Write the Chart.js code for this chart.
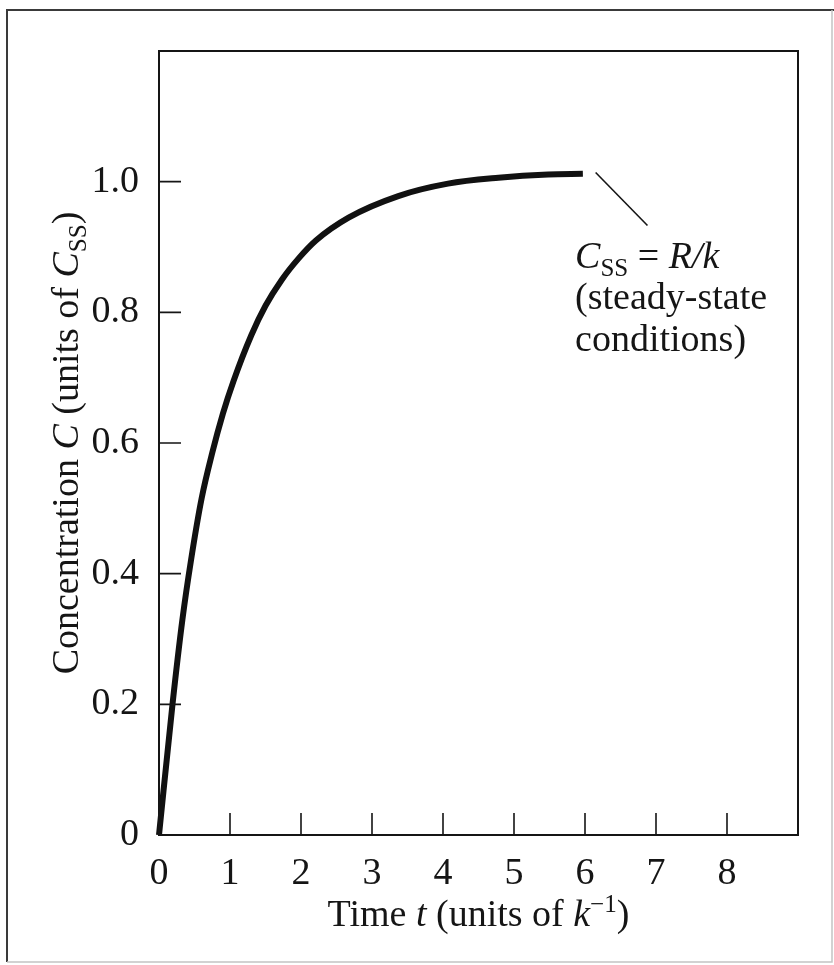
<!DOCTYPE html>
<html>
<head>
<meta charset="utf-8">
<script src="https://cdn.jsdelivr.net/npm/chart.js@4"></script>
<style>
  html, body { margin: 0; padding: 0; background: #fff; }
  #wrap { width: 834px; height: 965px; }
</style>
</head>
<body>
<div id="wrap"><canvas id="c" width="834" height="965"></canvas></div>
<script>
// ---- data ----
const timeValues = [0, 0.19, 0.33, 0.45, 0.60, 0.75, 0.90, 1.05, 1.30, 1.50, 1.73, 1.97, 2.21, 2.67, 3.37, 4.07, 4.78, 5.48, 5.97];
const concValues = [0, 0.20, 0.33, 0.42, 0.515, 0.585, 0.645, 0.695, 0.765, 0.81, 0.85, 0.883, 0.91, 0.945, 0.978, 0.997, 1.006, 1.011, 1.012];
const xTickValues = [0, 1, 2, 3, 4, 5, 6, 7, 8];
const xTickLabels = ['0', '1', '2', '3', '4', '5', '6', '7', '8'];
const yTickValues = [0, 0.2, 0.4, 0.6, 0.8, 1.0];
const yTickLabels = ['0', '0.2', '0.4', '0.6', '0.8', '1.0'];
const xRange = [0, 9];
const yRange = [0, 1.2];
// annotation leader line (data units) and text anchor
const leaderFrom = [6.15, 1.014];
const leaderTo = [6.88, 0.933];
const noteAnchor = [5.86, 0.868];

const SERIF = '"Liberation Serif", "Times New Roman", "DejaVu Serif", serif';
const INK = '#151515';

function fontStr(size, italic) {
  return (italic ? 'italic ' : '') + size + 'px ' + SERIF;
}

function richWidth(ctx, segs, size) {
  let w = 0;
  for (const s of segs) {
    const fs = (s.sub || s.sup) ? size * 0.66 : size;
    ctx.font = fontStr(fs, s.italic);
    w += ctx.measureText(s.text).width;
  }
  return w;
}
function drawRich(ctx, segs, x, y, size, align) {
  const w = richWidth(ctx, segs, size);
  let cx = align === 'center' ? x - w / 2 : x;
  ctx.textBaseline = 'alphabetic';
  ctx.textAlign = 'left';
  for (const s of segs) {
    const fs = (s.sub || s.sup) ? size * 0.66 : size;
    ctx.font = fontStr(fs, s.italic);
    let dy = 0;
    if (s.sub) dy = size * 0.22;
    if (s.sup) dy = -size * 0.36;
    ctx.fillText(s.text, cx, y + dy);
    cx += ctx.measureText(s.text).width;
  }
}

const figurePlugin = {
  id: 'figure',
  beforeDraw(chart) {
    const ctx = chart.ctx;
    ctx.save();
    ctx.fillStyle = '#fff';
    ctx.fillRect(0, 0, chart.width, chart.height);
    ctx.restore();
  },
  afterDraw(chart) {
    const ctx = chart.ctx;
    const a = chart.chartArea;
    const xs = chart.scales.x, ys = chart.scales.y;
    ctx.save();
    // outer frame of the figure
    ctx.strokeStyle = '#3a3a3a';
    ctx.lineWidth = 2;
    ctx.beginPath();
    ctx.moveTo(7, 962); ctx.lineTo(7, 10); ctx.lineTo(834, 10);
    ctx.stroke();
    ctx.strokeStyle = '#c4c4c4';
    ctx.lineWidth = 1.5;
    ctx.beginPath();
    ctx.moveTo(7, 962); ctx.lineTo(832, 962); ctx.lineTo(832, 10);
    ctx.stroke();

    // plot box
    ctx.strokeStyle = INK;
    ctx.lineWidth = 2;
    ctx.strokeRect(a.left, a.top, a.right - a.left, a.bottom - a.top);

    // inward tick marks
    ctx.lineWidth = 1.6;
    ctx.beginPath();
    for (const v of xTickValues) {
      if (v === 0) continue;
      const px = xs.getPixelForValue(v);
      ctx.moveTo(px, a.bottom);
      ctx.lineTo(px, a.bottom - 22);
    }
    for (const v of yTickValues) {
      if (v === 0) continue;
      const py = ys.getPixelForValue(v);
      ctx.moveTo(a.left, py);
      ctx.lineTo(a.left + 22, py);
    }
    ctx.stroke();

    // leader line for annotation
    ctx.lineWidth = 1.6;
    ctx.beginPath();
    ctx.moveTo(xs.getPixelForValue(leaderFrom[0]), ys.getPixelForValue(leaderFrom[1]));
    ctx.lineTo(xs.getPixelForValue(leaderTo[0]), ys.getPixelForValue(leaderTo[1]));
    ctx.stroke();

    // annotation text
    ctx.fillStyle = INK;
    const ax = xs.getPixelForValue(noteAnchor[0]);
    const ay = ys.getPixelForValue(noteAnchor[1]);
    drawRich(ctx, [
      { text: 'C', italic: true },
      { text: 'SS', sub: true },
      { text: ' = ' },
      { text: 'R/k', italic: true }
    ], ax, ay, 38, 'left');
    drawRich(ctx, [{ text: '(steady-state' }], ax, ay + 41, 38, 'left');
    drawRich(ctx, [{ text: 'conditions)' }], ax, ay + 83, 38, 'left');

    // x axis title
    const xc = (a.left + a.right) / 2;
    drawRich(ctx, [
      { text: 'Time ' },
      { text: 't', italic: true },
      { text: ' (units of ' },
      { text: 'k', italic: true },
      { text: '\u22121', sup: true },
      { text: ')' }
    ], xc, 926, 38, 'center');

    // y axis title (rotated)
    const yc = (a.top + a.bottom) / 2;
    ctx.translate(78, yc);
    ctx.rotate(-Math.PI / 2);
    drawRich(ctx, [
      { text: 'Concentration ' },
      { text: 'C', italic: true },
      { text: ' (units of ' },
      { text: 'C', italic: true },
      { text: 'SS', sub: true },
      { text: ')' }
    ], 0, 0, 38, 'center');
    ctx.restore();
  }
};

const points = timeValues.map((t, i) => ({ x: t, y: concValues[i] }));

new Chart(document.getElementById('c'), {
  type: 'scatter',
  data: {
    datasets: [{
      data: points,
      showLine: true,
      borderColor: '#111',
      borderWidth: 6,
      borderCapStyle: 'butt',
      borderJoinStyle: 'round',
      cubicInterpolationMode: 'monotone',
      pointRadius: 0,
      pointHoverRadius: 0,
      fill: false,
      clip: false
    }]
  },
  options: {
    responsive: false,
    animation: false,
    events: [],
    layout: { padding: { top: 51, right: 36, left: 0, bottom: 0 } },
    plugins: {
      legend: { display: false },
      tooltip: { enabled: false },
      title: { display: false }
    },
    scales: {
      x: {
        type: 'linear',
        min: xRange[0],
        max: xRange[1],
        grid: { display: false },
        border: { display: false },
        afterBuildTicks(scale) { scale.ticks = xTickValues.map(v => ({ value: v })); },
        afterFit(scale) { scale.height = 130; },
        ticks: {
          autoSkip: false,
          maxRotation: 0,
          padding: 8,
          color: INK,
          font: { family: SERIF, size: 38 },
          callback(v) { const i = xTickValues.indexOf(v); return i >= 0 ? xTickLabels[i] : ''; }
        }
      },
      y: {
        type: 'linear',
        min: yRange[0],
        max: yRange[1],
        grid: { display: false },
        border: { display: false },
        afterBuildTicks(scale) { scale.ticks = yTickValues.map(v => ({ value: v })); },
        afterFit(scale) { scale.width = 159; },
        ticks: {
          autoSkip: false,
          padding: 12,
          color: INK,
          font: { family: SERIF, size: 38 },
          callback(v) {
            const i = yTickValues.findIndex(t => Math.abs(t - v) < 1e-9);
            return i >= 0 ? yTickLabels[i] : '';
          }
        }
      }
    }
  },
  plugins: [figurePlugin]
});
</script>
</body>
</html>
